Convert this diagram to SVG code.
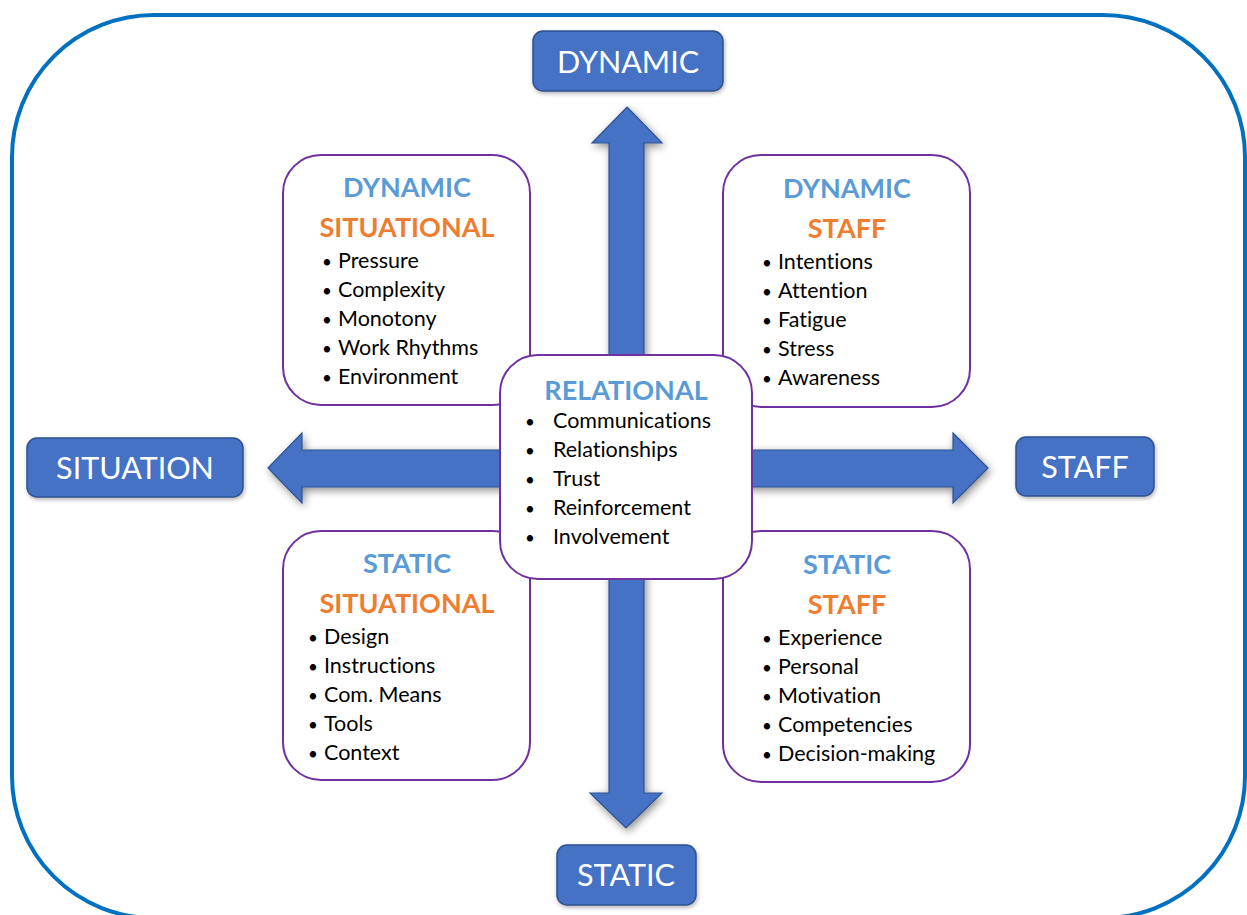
<svg xmlns="http://www.w3.org/2000/svg" width="1247" height="915" viewBox="0 0 1247 915">
  <defs>
    <filter id="shadow" x="-20%" y="-20%" width="140%" height="140%">
      <feGaussianBlur in="SourceAlpha" stdDeviation="4"/>
      <feOffset dx="2" dy="3" result="blur"/>
      <feComponentTransfer><feFuncA type="linear" slope="0.45"/></feComponentTransfer>
      <feMerge><feMergeNode/><feMergeNode in="SourceGraphic"/></feMerge>
    </filter>
    <filter id="soft" x="-10%" y="-10%" width="120%" height="130%">
      <feGaussianBlur in="SourceAlpha" stdDeviation="2"/>
      <feOffset dx="1" dy="2"/>
      <feComponentTransfer><feFuncA type="linear" slope="0.3"/></feComponentTransfer>
      <feMerge><feMergeNode/><feMergeNode in="SourceGraphic"/></feMerge>
    </filter>
  </defs>
  <style>
    text { font-variant-ligatures: none; }
    .frame { fill: #ffffff; stroke: #0070C0; stroke-width: 4; }
    .arrow { fill: #4472C4; stroke: #2F528F; stroke-width: 1.2; }
    .pill { fill: #4472C4; stroke: #2F528F; stroke-width: 1.5; }
    .pill-text { font-family: Lato, "Liberation Sans", sans-serif; font-size: 30.5px; fill: #ffffff; text-anchor: middle; }
    .card { fill: #ffffff; stroke: #7030A0; stroke-width: 2; }
    .head-blue { font-family: Lato, "Liberation Sans", sans-serif; font-weight: bold; font-size: 27px; fill: #5B9BD5; text-anchor: middle; }
    .head-orange { font-family: Lato, "Liberation Sans", sans-serif; font-weight: bold; font-size: 27px; fill: #ED7D31; text-anchor: middle; }
    .item { font-family: Lato, "Liberation Sans", sans-serif; font-size: 21.5px; fill: #000000; }
    .b { font-size: 17px; text-anchor: middle; }
  </style>

  <!-- outer rounded frame; its bottom edge runs just past the canvas -->
  <rect class="frame" x="12" y="15" width="1233" height="903" rx="142" ry="142"/>

  <g id="connectors">
    <polygon class="arrow" filter="url(#shadow)" points="627,107 662,143 644,143 644,793 662,793 626,828 590,793 609,793 609,143 592,143"/>
    <polygon class="arrow" filter="url(#shadow)" points="268,468 302,433 302,450 953,450 953,433 988,468 953,503 953,487 302,487 302,503"/>
  </g>

  <g id="dynamic">
    <rect class="pill" filter="url(#soft)" x="533" y="31" width="190" height="60" rx="10"/>
    <text class="pill-text" x="628" y="73">DYNAMIC</text>
  </g>
  <g id="situation">
    <rect class="pill" filter="url(#soft)" x="27" y="438" width="216" height="59" rx="10"/>
    <text class="pill-text" x="135" y="479">SITUATION</text>
  </g>
  <g id="staff">
    <rect class="pill" filter="url(#soft)" x="1016" y="437" width="138" height="59" rx="10"/>
    <text class="pill-text" x="1085" y="478">STAFF</text>
  </g>
  <g id="static">
    <rect class="pill" filter="url(#soft)" x="557" y="845" width="139" height="60" rx="10"/>
    <text class="pill-text" x="626" y="886">STATIC</text>
  </g>

  <g id="dynamic-situational">
    <rect class="card" x="283" y="155" width="247" height="250" rx="38"/>
    <text class="head-blue" x="407" y="197">DYNAMIC</text>
    <text class="head-orange" x="407" y="237">SITUATIONAL</text>
    <text class="item" y="268"><tspan class="b" x="327">•</tspan><tspan x="338">Pressure</tspan></text>
    <text class="item" y="297"><tspan class="b" x="327">•</tspan><tspan x="338">Complexity</tspan></text>
    <text class="item" y="326"><tspan class="b" x="327">•</tspan><tspan x="338">Monotony</tspan></text>
    <text class="item" y="355"><tspan class="b" x="327">•</tspan><tspan x="338">Work Rhythms</tspan></text>
    <text class="item" y="384"><tspan class="b" x="327">•</tspan><tspan x="338">Environment</tspan></text>
  </g>

  <g id="dynamic-staff">
    <rect class="card" x="723" y="155" width="247" height="252" rx="38"/>
    <text class="head-blue" x="847" y="198">DYNAMIC</text>
    <text class="head-orange" x="847" y="238">STAFF</text>
    <text class="item" y="269"><tspan class="b" x="767">•</tspan><tspan x="778">Intentions</tspan></text>
    <text class="item" y="298"><tspan class="b" x="767">•</tspan><tspan x="778">Attention</tspan></text>
    <text class="item" y="327"><tspan class="b" x="767">•</tspan><tspan x="778">Fatigue</tspan></text>
    <text class="item" y="356"><tspan class="b" x="767">•</tspan><tspan x="778">Stress</tspan></text>
    <text class="item" y="385"><tspan class="b" x="767">•</tspan><tspan x="778">Awareness</tspan></text>
  </g>

  <g id="static-situational">
    <rect class="card" x="283" y="531" width="247" height="249" rx="38"/>
    <text class="head-blue" x="407" y="573">STATIC</text>
    <text class="head-orange" x="407" y="613">SITUATIONAL</text>
    <text class="item" y="644"><tspan class="b" x="313">•</tspan><tspan x="324">Design</tspan></text>
    <text class="item" y="673"><tspan class="b" x="313">•</tspan><tspan x="324">Instructions</tspan></text>
    <text class="item" y="702"><tspan class="b" x="313">•</tspan><tspan x="324">Com. Means</tspan></text>
    <text class="item" y="731"><tspan class="b" x="313">•</tspan><tspan x="324">Tools</tspan></text>
    <text class="item" y="760"><tspan class="b" x="313">•</tspan><tspan x="324">Context</tspan></text>
  </g>

  <g id="static-staff">
    <rect class="card" x="723" y="531" width="247" height="251" rx="38"/>
    <text class="head-blue" x="847" y="574">STATIC</text>
    <text class="head-orange" x="847" y="614">STAFF</text>
    <text class="item" y="645"><tspan class="b" x="767">•</tspan><tspan x="778">Experience</tspan></text>
    <text class="item" y="674"><tspan class="b" x="767">•</tspan><tspan x="778">Personal</tspan></text>
    <text class="item" y="703"><tspan class="b" x="767">•</tspan><tspan x="778">Motivation</tspan></text>
    <text class="item" y="732"><tspan class="b" x="767">•</tspan><tspan x="778">Competencies</tspan></text>
    <text class="item" y="761"><tspan class="b" x="767">•</tspan><tspan x="778">Decision-making</tspan></text>
  </g>

  <g id="relational">
    <rect class="card" x="500" y="355" width="252" height="224" rx="38"/>
    <text class="head-blue" x="626" y="400">RELATIONAL</text>
    <text class="item" y="428"><tspan class="b" x="530">•</tspan><tspan x="553">Communications</tspan></text>
    <text class="item" y="457"><tspan class="b" x="530">•</tspan><tspan x="553">Relationships</tspan></text>
    <text class="item" y="486"><tspan class="b" x="530">•</tspan><tspan x="553">Trust</tspan></text>
    <text class="item" y="515"><tspan class="b" x="530">•</tspan><tspan x="553">Reinforcement</tspan></text>
    <text class="item" y="544"><tspan class="b" x="530">•</tspan><tspan x="553">Involvement</tspan></text>
  </g>
</svg>
